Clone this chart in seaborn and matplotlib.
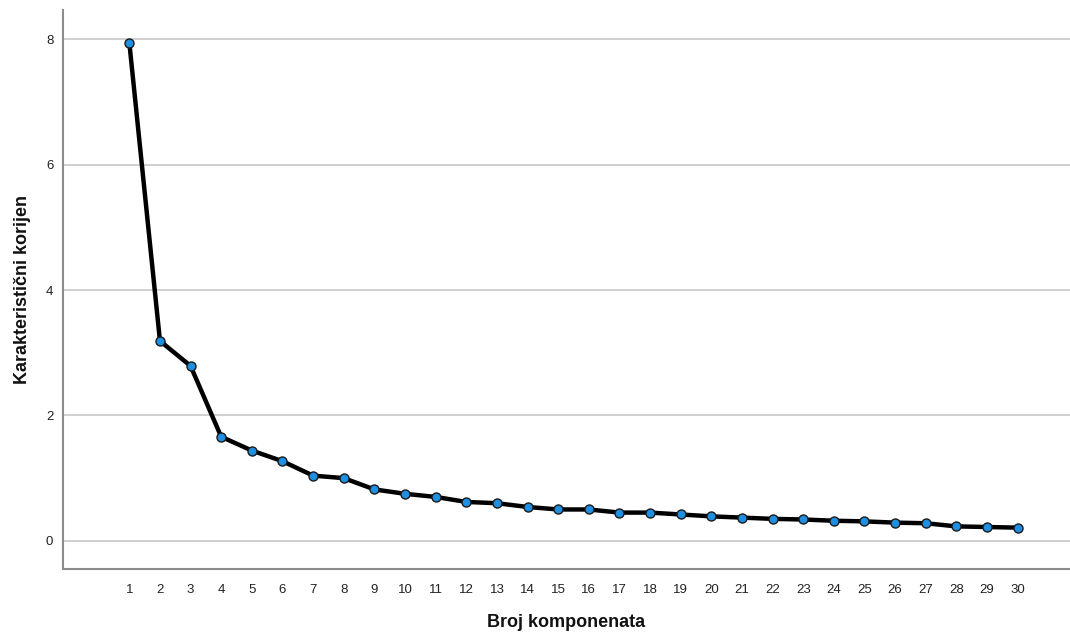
import matplotlib
matplotlib.use("Agg")
import matplotlib.pyplot as plt
import seaborn as sns
import pandas as pd

components = list(range(1, 31))
eigenvalues = [7.95, 3.19, 2.79, 1.66, 1.44, 1.27, 1.04, 1.00, 0.82, 0.75,
               0.70, 0.62, 0.60, 0.54, 0.50, 0.50, 0.45, 0.45, 0.42, 0.39,
               0.37, 0.35, 0.34, 0.32, 0.31, 0.29, 0.28, 0.23, 0.22, 0.21]
x_label = "Broj komponenata"
y_label = "Karakteristični korijen"
y_ticks = [0, 2, 4, 6, 8]

df = pd.DataFrame({"komp": components, "eig": eigenvalues})

sns.set_theme(style="white")
plt.rcParams['font.family'] = ['Liberation Sans', 'DejaVu Sans']

fig = plt.figure(figsize=(10.7, 6.36), dpi=100)
ax = fig.add_axes([63/1070, 67/636, 1007/1070, 559/636])

for yv in y_ticks:
    ax.axhline(yv, color="#c8c8c8", lw=1.2, zorder=0)

sns.lineplot(data=df, x="komp", y="eig", ax=ax, color="black", lw=3.2,
             marker="o", markersize=6.5, markerfacecolor="#1e8fe1",
             markeredgecolor="#1a1a1a", markeredgewidth=1.0, zorder=3)

ax.set_xlim(-1.165, 31.71)
ax.set_ylim(-0.45, 8.47)
ax.set_xticks(components)
ax.set_xticklabels([str(c) for c in components])
ax.set_yticks(y_ticks)
ax.set_yticklabels([str(v) for v in y_ticks])
ax.tick_params(axis="both", length=0, labelsize=9.5, colors="#222222")
ax.tick_params(axis="x", pad=11)
ax.tick_params(axis="y", pad=7)

for s in ["top", "right"]:
    ax.spines[s].set_visible(False)
for s in ["left", "bottom"]:
    ax.spines[s].set_color("#8c8c8c")
    ax.spines[s].set_linewidth(1.5)

ax.set_xlabel(x_label, fontsize=13, fontweight="bold", color="#111111", labelpad=13)
ax.set_ylabel(y_label, fontsize=13, fontweight="bold", color="#111111", labelpad=11)
ax.grid(False)

fig.savefig("out.png", dpi=100)
